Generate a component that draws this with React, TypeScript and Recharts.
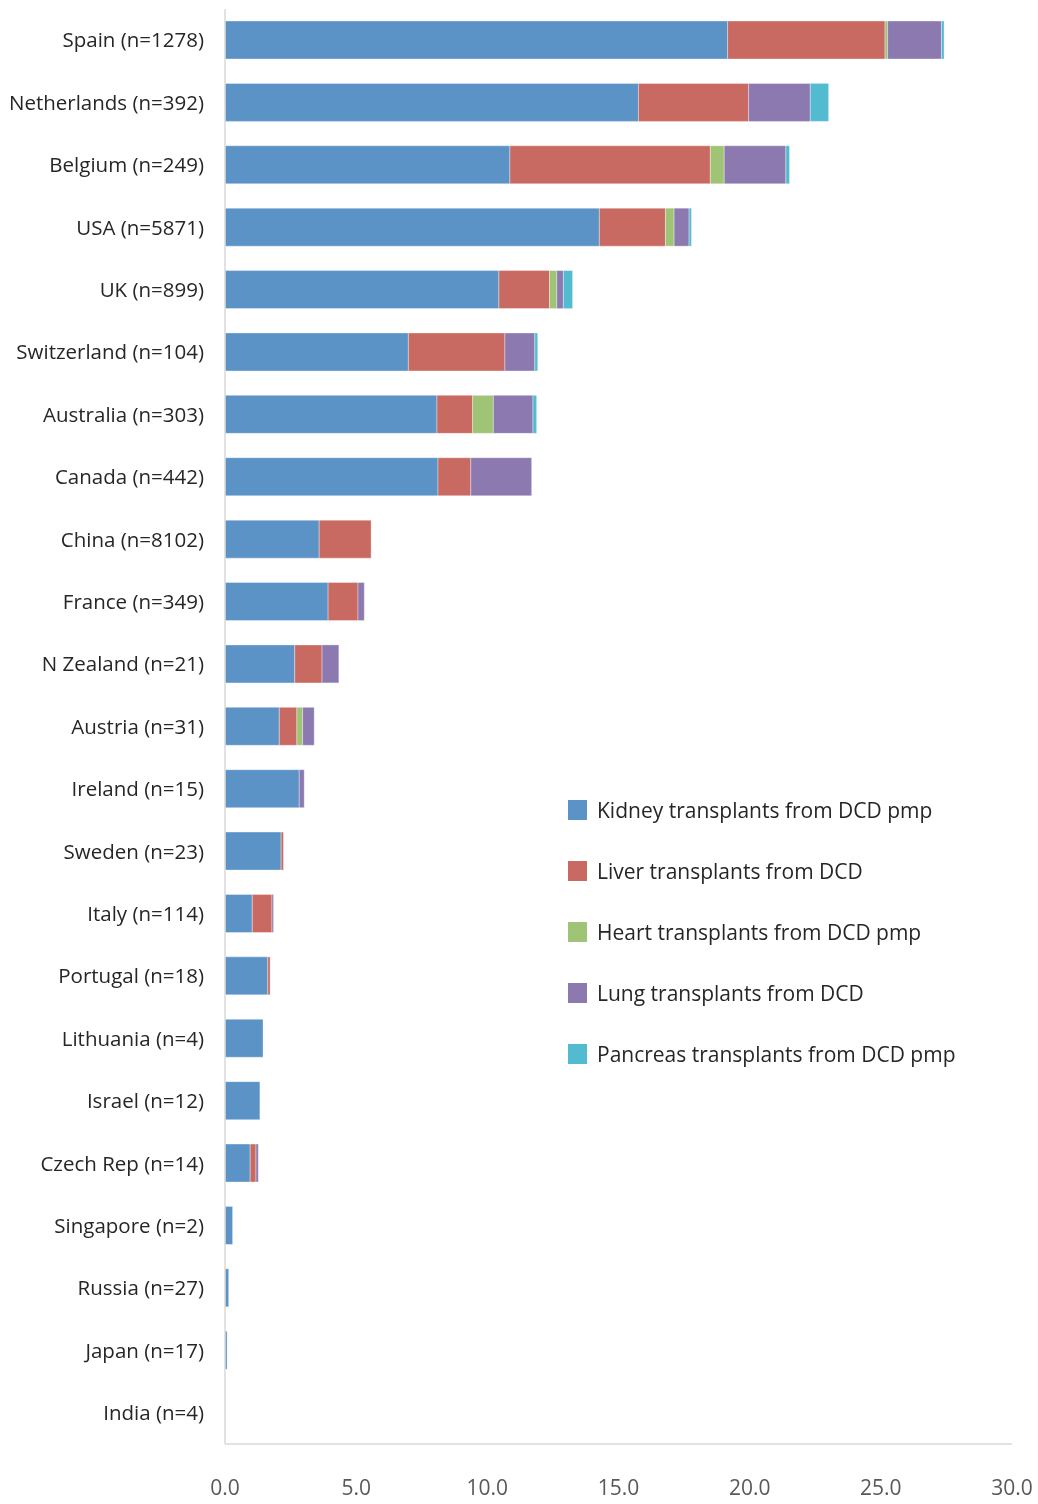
import { BarChart, Bar, XAxis, YAxis } from "recharts";

// Countries, top to bottom
const countries = [
  "Spain (n=1278)",
  "Netherlands (n=392)",
  "Belgium (n=249)",
  "USA (n=5871)",
  "UK (n=899)",
  "Switzerland (n=104)",
  "Australia (n=303)",
  "Canada (n=442)",
  "China (n=8102)",
  "France (n=349)",
  "N Zealand (n=21)",
  "Austria (n=31)",
  "Ireland (n=15)",
  "Sweden (n=23)",
  "Italy (n=114)",
  "Portugal (n=18)",
  "Lithuania (n=4)",
  "Israel (n=12)",
  "Czech Rep (n=14)",
  "Singapore (n=2)",
  "Russia (n=27)",
  "Japan (n=17)",
  "India (n=4)",
];

// transplants from DCD, per million population
const kidney = [19.16, 15.76, 10.86, 14.27, 10.44, 6.99, 8.08, 8.12, 3.59, 3.93, 2.66, 2.07, 2.83, 2.14, 1.04, 1.63, 1.45, 1.33, 0.96, 0.29, 0.14, 0.08, 0];
const liver = [6.0, 4.2, 7.64, 2.52, 1.93, 3.68, 1.36, 1.25, 1.98, 1.14, 1.04, 0.67, 0, 0.09, 0.75, 0.09, 0, 0, 0.22, 0, 0, 0, 0];
const heart = [0.1, 0, 0.53, 0.33, 0.28, 0, 0.79, 0, 0, 0, 0, 0.22, 0, 0, 0, 0, 0, 0, 0, 0, 0, 0, 0];
const lung = [2.05, 2.35, 2.35, 0.57, 0.25, 1.14, 1.51, 2.32, 0, 0.24, 0.64, 0.44, 0.19, 0, 0.06, 0, 0, 0, 0.09, 0, 0, 0, 0];
const pancreas = [0.1, 0.7, 0.14, 0.09, 0.35, 0.11, 0.14, 0, 0, 0, 0, 0, 0, 0, 0, 0, 0, 0, 0, 0, 0, 0, 0];

const xTicks = [0, 5, 10, 15, 20, 25, 30];

const series = [
  { key: "kidney", name: "Kidney transplants from DCD pmp", color: "#5B93C7" },
  { key: "liver", name: "Liver transplants from DCD", color: "#C96A62" },
  { key: "heart", name: "Heart transplants from DCD pmp", color: "#A0C476" },
  { key: "lung", name: "Lung transplants from DCD", color: "#8B79B0" },
  { key: "pancreas", name: "Pancreas transplants from DCD pmp", color: "#52BBD0" },
];

const data = countries.map((country, i) => ({
  country,
  kidney: kidney[i],
  liver: liver[i],
  heart: heart[i],
  lung: lung[i],
  pancreas: pancreas[i],
}));

const FONT = "'Open Sans', sans-serif";

// legend drawn as a plain vertical list, placed over the empty lower right area
const LegendList = () => (
  <div
    style={{
      position: "absolute",
      left: 558,
      top: 772,
      fontFamily: FONT,
      fontSize: 21,
      color: "#262626",
    }}
  >
    {series.map((s) => (
      <div
        key={s.key}
        style={{ display: "flex", alignItems: "center", height: 60.8 }}
      >
        <span
          style={{
            display: "inline-block",
            width: 19,
            height: 20,
            background: s.color,
            marginRight: 10,
          }}
        />
        <span style={{ whiteSpace: "nowrap" }}>{s.name}</span>
      </div>
    ))}
  </div>
);

export default function App() {
  // fixed so the tall chart never triggers a page scrollbar
  return (
    <div
      style={{
        position: "fixed",
        left: 10,
        top: 8,
        width: 1028,
        height: 1496,
      }}
    >
      <BarChart
        width={1028}
        height={1496}
        data={data}
        layout="vertical"
        margin={{ top: 1, right: 26, bottom: 0, left: 0 }}
        barSize={38}
      >
        <XAxis
          type="number"
          domain={[0, 30]}
          ticks={xTicks}
          tickFormatter={(v: number) => v.toFixed(1)}
          axisLine={{ stroke: "#d9d9d9", strokeWidth: 1.5 }}
          tickLine={false}
          tickSize={0}
          tickMargin={36}
          height={60}
          tick={{ fill: "#595959", fontSize: 21, fontFamily: FONT }}
        />
        <YAxis
          type="category"
          dataKey="country"
          width={215}
          axisLine={{ stroke: "#d9d9d9", strokeWidth: 1.5 }}
          tickLine={false}
          tickSize={0}
          tickMargin={21}
          interval={0}
          tick={{ fill: "#262626", fontSize: 20.5, fontFamily: FONT }}
        />
        {series.map((s) => (
          <Bar
            key={s.key}
            dataKey={s.key}
            name={s.name}
            stackId="a"
            fill={s.color}
            stroke="rgba(255,255,255,0.35)"
            strokeWidth={1}
            isAnimationActive={false}
          />
        ))}
      </BarChart>
      <LegendList />
    </div>
  );
}
